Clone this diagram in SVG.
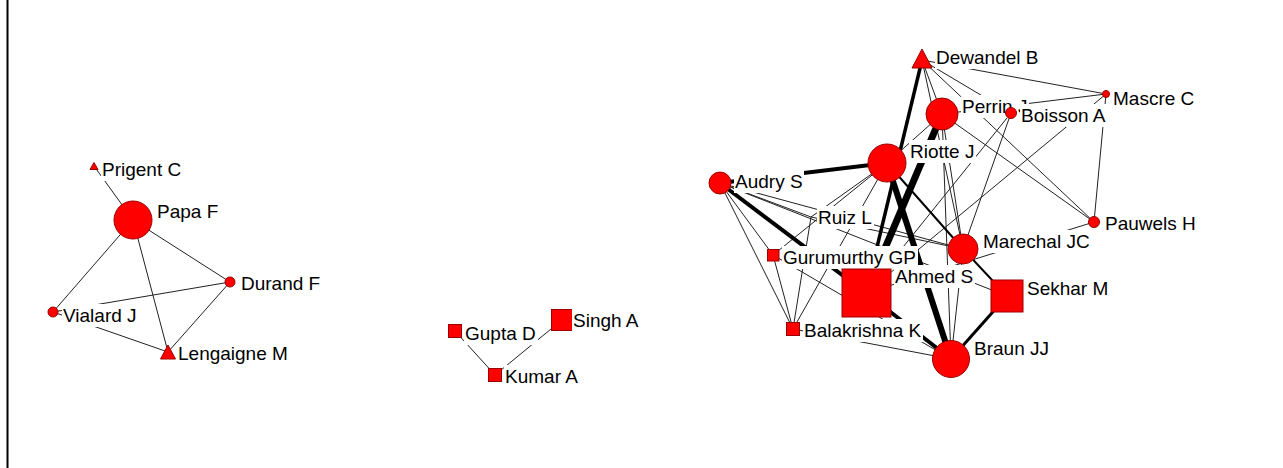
<svg xmlns="http://www.w3.org/2000/svg" width="1283" height="468" viewBox="0 0 1283 468">
<style>
.n{fill:#ff0000;stroke:#9a0000;stroke-width:1}
.lb{fill:#ffffff}
text{font-family:"Liberation Sans",Arial,sans-serif;font-size:19px;fill:#000}
.e{stroke:#222;stroke-width:1;fill:none}
.k{stroke:#000;fill:none}
</style>
<rect x="0" y="0" width="1283" height="468" fill="#fff"/>
<rect x="6.5" y="0" width="2" height="468" fill="#000"/>
<g id="connectors">
  <line class="e" x1="94" y1="166" x2="133" y2="220"/>
  <line class="e" x1="133" y1="220" x2="230" y2="282"/>
  <line class="e" x1="133" y1="220" x2="53" y2="312"/>
  <line class="e" x1="133" y1="220" x2="168" y2="352"/>
  <line class="e" x1="53" y1="312" x2="230" y2="282"/>
  <line class="e" x1="53" y1="312" x2="168" y2="352"/>
  <line class="e" x1="230" y1="282" x2="168" y2="352"/>
  <line class="e" x1="455" y1="331" x2="495" y2="375"/>
  <line class="e" x1="562" y1="320" x2="495" y2="375"/>
  <!-- right cluster thin -->
  <line class="e" x1="720" y1="183" x2="811" y2="217"/>
  <line class="e" x1="720" y1="183" x2="773" y2="255"/>
  <line class="e" x1="720" y1="183" x2="793" y2="329"/>
  <line class="e" x1="720" y1="183" x2="963" y2="249"/>
  <line class="e" x1="720" y1="183" x2="951" y2="359"/>
  <line class="e" x1="720" y1="183" x2="1007" y2="296"/>
  <line class="e" x1="887" y1="163" x2="811" y2="217"/>
  <line class="e" x1="887" y1="163" x2="773" y2="255"/>
  <line class="e" x1="887" y1="163" x2="793" y2="329"/>
  <line class="e" x1="887" y1="163" x2="942" y2="114"/>
  <line class="e" x1="922" y1="60" x2="942" y2="114"/>
  <line class="e" x1="922" y1="60" x2="963" y2="249"/>
  <line class="e" x1="922" y1="60" x2="1094" y2="222"/>
  <line class="e" x1="922" y1="60" x2="1011" y2="113"/>
  <line class="e" x1="922" y1="60" x2="1106" y2="94"/>
  <line class="e" x1="942" y1="114" x2="1106" y2="94"/>
  <line class="e" x1="942" y1="114" x2="1094" y2="222"/>
  <line class="e" x1="942" y1="114" x2="963" y2="249"/>
  <line class="e" x1="942" y1="114" x2="951" y2="359"/>
  <line class="e" x1="1011" y1="113" x2="963" y2="249"/>
  <line class="e" x1="1011" y1="113" x2="866" y2="293"/>
  <line class="e" x1="1106" y1="94" x2="1094" y2="222"/>
  <line class="e" x1="1106" y1="94" x2="866" y2="293"/>
  <line class="e" x1="1094" y1="222" x2="866" y2="293"/>
  <line class="e" x1="963" y1="249" x2="951" y2="359"/>
  <line class="e" x1="773" y1="255" x2="793" y2="329"/>
  <line class="e" x1="773" y1="255" x2="951" y2="359"/>
  <line class="e" x1="793" y1="329" x2="951" y2="359"/>
  <line class="e" x1="811" y1="217" x2="793" y2="329"/>
  <line class="e" x1="811" y1="217" x2="963" y2="249"/>
  <!-- thick -->
  <line class="k" stroke-width="4" x1="720" y1="183" x2="887" y2="163"/>
  <line class="k" stroke-width="4" x1="720" y1="183" x2="866" y2="293"/>
  <line class="k" stroke-width="3.5" x1="922" y1="60" x2="866" y2="293"/>
  <line class="k" stroke-width="7" x1="942" y1="114" x2="866" y2="293"/>
  <line class="k" stroke-width="6" x1="887" y1="163" x2="951" y2="359"/>
  <line class="k" stroke-width="4" x1="866" y1="293" x2="951" y2="359"/>
  <line class="k" stroke-width="3" x1="1007" y1="296" x2="951" y2="359"/>
  <line class="k" stroke-width="2" x1="963" y1="249" x2="1007" y2="296"/>
  <line class="k" stroke-width="2" x1="887" y1="163" x2="963" y2="249"/>
</g>
<g id="prigent"><polygon class="n" points="94,162.5 90,169.5 98,169.5"/><rect class="lb" x="101" y="158" width="82" height="23"/><text x="102" y="176">Prigent C</text></g>
<g id="papa"><circle class="n" cx="133" cy="220" r="19"/><rect class="lb" x="156" y="200" width="64" height="23"/><text x="157" y="218">Papa F</text></g>
<g id="durand"><circle class="n" cx="230" cy="282" r="5"/><rect class="lb" x="240" y="272" width="82" height="23"/><text x="241" y="290">Durand F</text></g>
<g id="vialard"><circle class="n" cx="53" cy="312" r="5"/><rect class="lb" x="62" y="304" width="77" height="23"/><text x="63" y="322">Vialard J</text></g>
<g id="lengaigne"><polygon class="n" points="168,345 160.5,359 175.5,359"/><rect class="lb" x="177" y="342" width="113" height="23"/><text x="178" y="360">Lengaigne M</text></g>
<g id="gupta"><rect class="n" x="448.5" y="324.5" width="13" height="13"/><rect class="lb" x="464" y="322" width="74" height="23"/><text x="465" y="340">Gupta D</text></g>
<g id="singh"><rect class="n" x="551.5" y="309.5" width="21" height="21"/><rect class="lb" x="572" y="309" width="69" height="23"/><text x="573" y="327">Singh A</text></g>
<g id="kumar"><rect class="n" x="488.5" y="368.5" width="13" height="13"/><rect class="lb" x="504" y="365" width="77" height="23"/><text x="505" y="383">Kumar A</text></g>
<g id="audry"><circle class="n" cx="720" cy="183" r="11"/><rect class="lb" x="734" y="170" width="70" height="23"/><text x="735" y="188">Audry S</text></g>
<g id="ruiz"><rect class="lb" x="817" y="206" width="57" height="23"/><text x="818" y="224">Ruiz L</text></g>
<g id="gurumurthy"><rect class="n" x="767.5" y="249.5" width="11.5" height="11.5"/><rect class="lb" x="782" y="246" width="136" height="23"/><text x="783" y="264">Gurumurthy GP</text></g>
<g id="balakrishna"><rect class="n" x="786.5" y="322.5" width="13" height="13"/><rect class="lb" x="803" y="319" width="120" height="23"/><text x="804" y="337">Balakrishna K</text></g>
<g id="ahmed"><rect class="n" x="842" y="269" width="49" height="48"/><rect class="lb" x="894" y="265" width="81" height="23"/><text x="895" y="283">Ahmed S</text></g>
<g id="riotte"><circle class="n" cx="887" cy="163" r="19"/><rect class="lb" x="909" y="140" width="67" height="23"/><text x="910" y="158">Riotte J</text></g>
<g id="dewandel"><polygon class="n" points="922,49 912,68 932,68"/><rect class="lb" x="935" y="46" width="105" height="23"/><text x="936" y="64">Dewandel B</text></g>
<g id="perrin"><circle class="n" cx="942" cy="114" r="16"/><rect class="lb" x="961" y="95" width="68" height="23"/><text x="962" y="113">Perrin J</text></g>
<g id="boisson"><circle class="n" cx="1011" cy="113" r="5.5"/><rect class="lb" x="1020" y="104" width="88" height="23"/><text x="1021" y="122">Boisson A</text></g>
<g id="mascre"><circle class="n" cx="1106" cy="94" r="3.5"/><rect class="lb" x="1112" y="87" width="84" height="23"/><text x="1113" y="105">Mascre C</text></g>
<g id="pauwels"><circle class="n" cx="1094" cy="222" r="5.5"/><rect class="lb" x="1104" y="212" width="93" height="23"/><text x="1105" y="230">Pauwels H</text></g>
<g id="marechal"><circle class="n" cx="963" cy="249" r="15"/><rect class="lb" x="982" y="230" width="109" height="23"/><text x="983" y="248">Marechal JC</text></g>
<g id="sekhar"><rect class="n" x="991" y="280" width="32" height="32"/><rect class="lb" x="1026" y="277" width="84" height="23"/><text x="1027" y="295">Sekhar M</text></g>
<g id="braun"><circle class="n" cx="951" cy="359" r="18.5"/><rect class="lb" x="973" y="337" width="78" height="23"/><text x="974" y="355">Braun JJ</text></g>
</svg>
